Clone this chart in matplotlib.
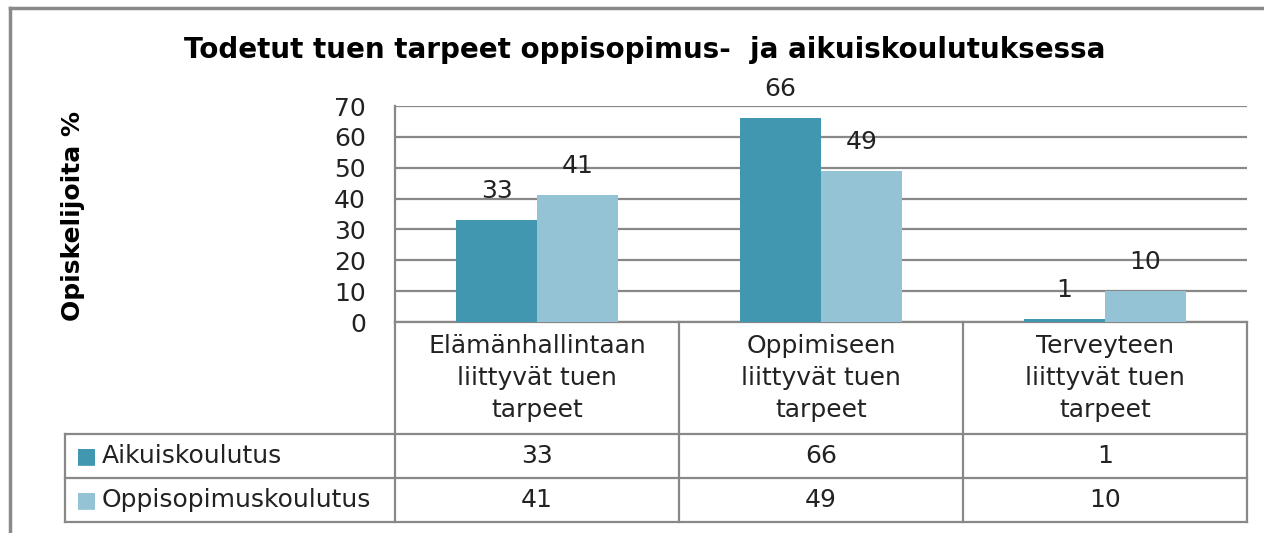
import matplotlib.pyplot as plt
import matplotlib.transforms as mtransforms
import numpy as np

# data
categories = ["Elämänhallintaan\nliittyvät tuen\ntarpeet",
              "Oppimiseen\nliittyvät tuen\ntarpeet",
              "Terveyteen\nliittyvät tuen\ntarpeet"]
series_names = ["Aikuiskoulutus", "Oppisopimuskoulutus"]
aikuis = [33, 66, 1]
oppisopimus = [41, 49, 10]
yticks = [0, 10, 20, 30, 40, 50, 60, 70]

dark = "#4197b0"
light = "#93c3d5"
grid_c = "#888888"
txt_c = "#222222"
fs = 18
W, H = 1264, 533

fig = plt.figure(figsize=(W / 100, H / 100), dpi=100)
plt.rcParams['font.family'] = ['DejaVu Sans']

# plot area in pixels: x 395..1247, y 106..322
ax = fig.add_axes([395 / W, 1 - 322 / H, 852 / W, 216 / H])
x = np.arange(len(categories))
bw = 0.285
b1 = ax.bar(x - bw / 2, aikuis, bw, color=dark, zorder=3)
b2 = ax.bar(x + bw / 2, oppisopimus, bw, color=light, zorder=3)
for bars, vals in ((b1, aikuis), (b2, oppisopimus)):
    for r, v in zip(bars, vals):
        ax.annotate(str(v), (r.get_x() + r.get_width() / 2, v),
                    xytext=(0, 21), textcoords="offset points",
                    ha="center", va="center", fontsize=fs, color=txt_c)

ax.set_xlim(-0.5, 2.5)
ax.set_ylim(0, 70)
ax.set_yticks(yticks)
ax.set_xticks([])
ax.tick_params(axis="y", length=0, pad=21, labelsize=fs, labelcolor=txt_c)
ax.yaxis.grid(True, color=grid_c, lw=1.6, zorder=0)
for s in ("top", "right", "bottom"):
    ax.spines[s].set_visible(False)
ax.spines["left"].set_color(grid_c)
ax.spines["left"].set_linewidth(1.6)

# data table below the plot area
tr = mtransforms.blended_transform_factory(ax.transData, ax.transAxes)
px = 852 / 3  # pixels per category
x_left = -0.5 - (395 - 65) / px
y_head = -(434 - 322) / 216
y_r1 = -(478 - 322) / 216
y_r2 = -(522 - 322) / 216
lk = dict(color=grid_c, lw=1.6, transform=tr, clip_on=False)
ax.plot([-0.5, 2.5], [0, 0], **lk)
for yy in (y_head, y_r1, y_r2):
    ax.plot([x_left, 2.5], [yy, yy], **lk)
for xx in (-0.5, 0.5, 1.5, 2.5):
    ax.plot([xx, xx], [0, y_r2], **lk)
ax.plot([x_left, x_left], [y_head, y_r2], **lk)

for i, c in enumerate(categories):
    ax.text(i, y_head / 2, c, transform=tr, ha="center", va="center",
            fontsize=fs, linespacing=1.4, color=txt_c)
rows = [aikuis, oppisopimus]
colors = [dark, light]
for j, (name, vals, col) in enumerate(zip(series_names, rows, colors)):
    ymid = (y_head + y_r1) / 2 if j == 0 else (y_r1 + y_r2) / 2
    for i, v in enumerate(vals):
        ax.text(i, ymid, str(v), transform=tr, ha="center", va="center",
                fontsize=fs, color=txt_c)
    ax.text(x_left + 11 / px, ymid, "\u25a0", transform=tr, ha="left", va="center",
            fontsize=16, color=col)
    ax.text(x_left + 37 / px, ymid, name, transform=tr, ha="left", va="center",
            fontsize=fs, color=txt_c)

# title, y label and outer border
fig.text(645 / W, 1 - 50 / H, "Todetut tuen tarpeet oppisopimus-  ja aikuiskoulutuksessa",
         ha="center", va="center", fontsize=20, fontweight="bold")
fig.text(73 / W, 1 - 216 / H, "Opiskelijoita %", rotation=90, ha="center", va="center",
         fontsize=18, fontweight="bold")
fig.add_artist(plt.Line2D([10 / W, 10 / W], [0, 1 - 8 / H], color="#8a8a8a", lw=2.5,
                          transform=fig.transFigure))
fig.add_artist(plt.Line2D([10 / W, 1], [1 - 8 / H, 1 - 8 / H], color="#8a8a8a", lw=2.5,
                          transform=fig.transFigure))

fig.savefig("out.png", dpi=100)
